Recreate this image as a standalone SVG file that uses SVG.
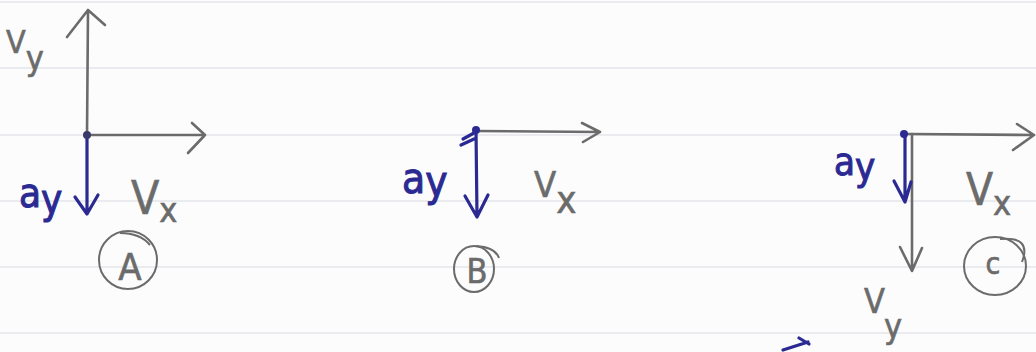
<svg xmlns="http://www.w3.org/2000/svg" width="1036" height="352" viewBox="0 0 1036 352">
<style>
.paper{fill:#fcfcfc}
.rule{stroke:#e4e6ea;stroke-width:1.5}
.pencil{stroke:#6b6b6b;stroke-width:2.6;fill:none;stroke-linecap:round;stroke-linejoin:round}
.ink{stroke:#2b2a92;stroke-width:3.2;fill:none;stroke-linecap:round;stroke-linejoin:round}
.tp{font-family:"DejaVu Sans Condensed","DejaVu Sans",sans-serif;fill:#6b6b6b;stroke:#6b6b6b;stroke-width:0.6}
.ti{font-family:"DejaVu Sans Condensed","DejaVu Sans",sans-serif;fill:#2b2a92;stroke:#2b2a92;stroke-width:1}
.circ{stroke:#6b6b6b;stroke-width:2;fill:none}
</style>
<rect class="paper" x="0" y="0" width="1036" height="352"/>
<g id="rules">
<line class="rule" x1="0" y1="2" x2="1036" y2="2"/>
<line class="rule" x1="0" y1="68" x2="1036" y2="68"/>
<line class="rule" x1="0" y1="135" x2="1036" y2="135"/>
<line class="rule" x1="0" y1="201" x2="1036" y2="201"/>
<line class="rule" x1="0" y1="267" x2="1036" y2="267"/>
<line class="rule" x1="0" y1="333" x2="1036" y2="333"/>
</g>
<g id="connectors">
<path class="pencil" d="M87,135 L88,10 M67,37 L88,10 L105,25"/>
<path class="pencil" d="M88,135 L205,135 M192,123 L205,135 L188,153"/>
<path class="ink" d="M87,135 L87,214 M75,197 L87,214 L98,195"/>
<path class="pencil" d="M476,131 L600,132 M582,123 L600,132 L583,142"/>
<path class="ink" d="M476,130 L477,217 M465,196 L477,217 L488,195"/>
<path class="ink" d="M463,139 L474,133 M461,145 L474,139" stroke-width="1.5"/>
<path class="pencil" d="M908,134 L1034,135 M1017,124 L1034,135 L1013,150"/>
<path class="pencil" d="M912,134 L912,271 M900,247 L912,271 L922,248"/>
<path class="ink" d="M905,134 L905,202 M894,181 L905,202 L911,182"/>
<path class="ink" d="M783,350 L808,342 M799,338 L809,344"/>
</g>
<g id="node-A">
<circle cx="87" cy="135" r="4" fill="#3a3a6a"/>
<text class="tp" x="6" y="53" font-size="32">V<tspan dy="17" font-size="34">y</tspan></text>
<text class="ti" x="19" y="207" font-size="40">a<tspan dy="6">y</tspan></text>
<text class="tp" x="131" y="214" font-size="46">V<tspan dy="8" font-size="34">x</tspan></text>
<circle class="circ" cx="128" cy="260" r="29"/>
<path class="circ" d="M120,233 Q140,233 150,245"/>
<text class="tp" x="130" y="280" font-size="38" text-anchor="middle">A</text>
</g>
<g id="node-B">
<circle cx="476" cy="130" r="4" fill="#2b2a92"/>
<text class="ti" x="402" y="193" font-size="42">a<tspan dy="3">y</tspan></text>
<text class="tp" x="534" y="197" font-size="36">V<tspan dy="16" font-size="38">x</tspan></text>
<ellipse class="circ" cx="474" cy="269" rx="20" ry="23"/>
<path class="circ" d="M476,246 Q495,247 499,258"/>
<text class="tp" x="477" y="283" font-size="34" text-anchor="middle">B</text>
</g>
<g id="node-C">
<circle cx="904" cy="134" r="4" fill="#2b2a92"/>
<text class="ti" x="834" y="175" font-size="38">a<tspan dy="5">y</tspan></text>
<text class="tp" x="966" y="205" font-size="44">V<tspan dy="10" font-size="34">x</tspan></text>
<ellipse class="circ" cx="995" cy="266" rx="31" ry="29"/>
<path class="circ" d="M1000,239 Q1032,236 1022,262"/>
<text class="tp" x="993" y="274" font-size="30" text-anchor="middle">c</text>
<text class="tp" x="864" y="313" font-size="34">V<tspan dy="25" font-size="34">y</tspan></text>
</g>
</svg>
